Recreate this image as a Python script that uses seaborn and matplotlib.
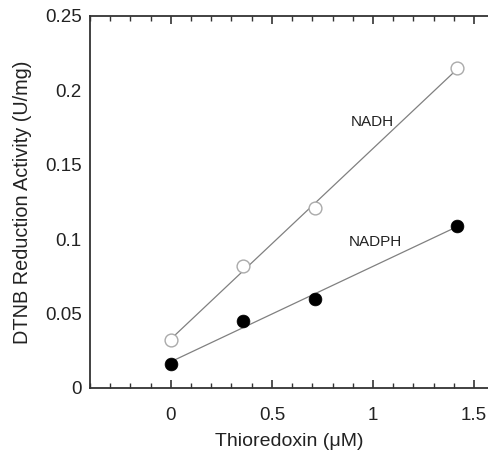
import matplotlib
matplotlib.use("Agg")
import matplotlib.pyplot as plt
import seaborn as sns
import pandas as pd
from matplotlib.ticker import MultipleLocator

thioredoxin = [0.0, 0.357, 0.714, 1.416]
nadh = [0.032, 0.082, 0.121, 0.215]
nadph = [0.016, 0.045, 0.060, 0.109]
xticks = [0, 0.5, 1, 1.5]
xticklabels = ["0", "0.5", "1", "1.5"]
yticks = [0, 0.05, 0.1, 0.15, 0.2, 0.25]
yticklabels = ["0", "0.05", "0.1", "0.15", "0.2", "0.25"]

df = pd.DataFrame({"x": thioredoxin, "NADH": nadh, "NADPH": nadph})

sns.set_style("ticks")
plt.rcParams["font.family"] = ["Liberation Sans", "DejaVu Sans"]

fig = plt.figure(figsize=(4.89, 4.53), dpi=100)
ax = fig.add_axes([90/489, 65/453, 1 - 90/489, (388 - 16)/453])

line_kw = dict(color="#808080", linewidth=0.9)
sns.regplot(data=df, x="x", y="NADH", scatter=False, ci=None, truncate=True,
            line_kws=line_kw, ax=ax)
sns.regplot(data=df, x="x", y="NADPH", scatter=False, ci=None, truncate=True,
            line_kws=line_kw, ax=ax)
sns.scatterplot(data=df, x="x", y="NADH", ax=ax, s=85, facecolor="white",
                edgecolor="#aaaaaa", linewidth=1.0, zorder=5)
sns.scatterplot(data=df, x="x", y="NADPH", ax=ax, s=85, color="black",
                edgecolor="black", linewidth=0.5, zorder=5)

ax.text(0.995, 0.179, "NADH", fontsize=11, ha="center", va="center", color="#222222")
ax.text(1.01, 0.098, "NADPH", fontsize=11, ha="center", va="center", color="#222222")

ax.set_xlim(-0.4, (489 - 171) / 202)
ax.set_ylim(0, 0.25)
ax.set_xticks(xticks)
ax.set_xticklabels(xticklabels)
ax.set_yticks(yticks)
ax.set_yticklabels(yticklabels)
ax.xaxis.set_minor_locator(MultipleLocator(0.1))
ax.tick_params(axis="x", which="both", direction="in", top=True, bottom=True,
               colors="#333333", labelcolor="#222222", labelsize=13.5, pad=14)
ax.tick_params(axis="x", which="major", length=6, width=1.2)
ax.tick_params(axis="x", which="minor", length=3.5, width=1.0)
ax.tick_params(axis="y", which="both", length=0, labelsize=13.5, labelcolor="#222222", pad=6)

for side in ["left", "bottom", "top"]:
    ax.spines[side].set_color("#333333")
    ax.spines[side].set_linewidth(1.3)
ax.spines["right"].set_visible(False)

ax.set_xlabel("Thioredoxin (\u03bcM)", fontsize=14, color="#222222", labelpad=6)
ax.set_ylabel("DTNB Reduction Activity (U/mg)", fontsize=14.3, color="#222222", labelpad=9)

fig.savefig("out.png", dpi=100)
